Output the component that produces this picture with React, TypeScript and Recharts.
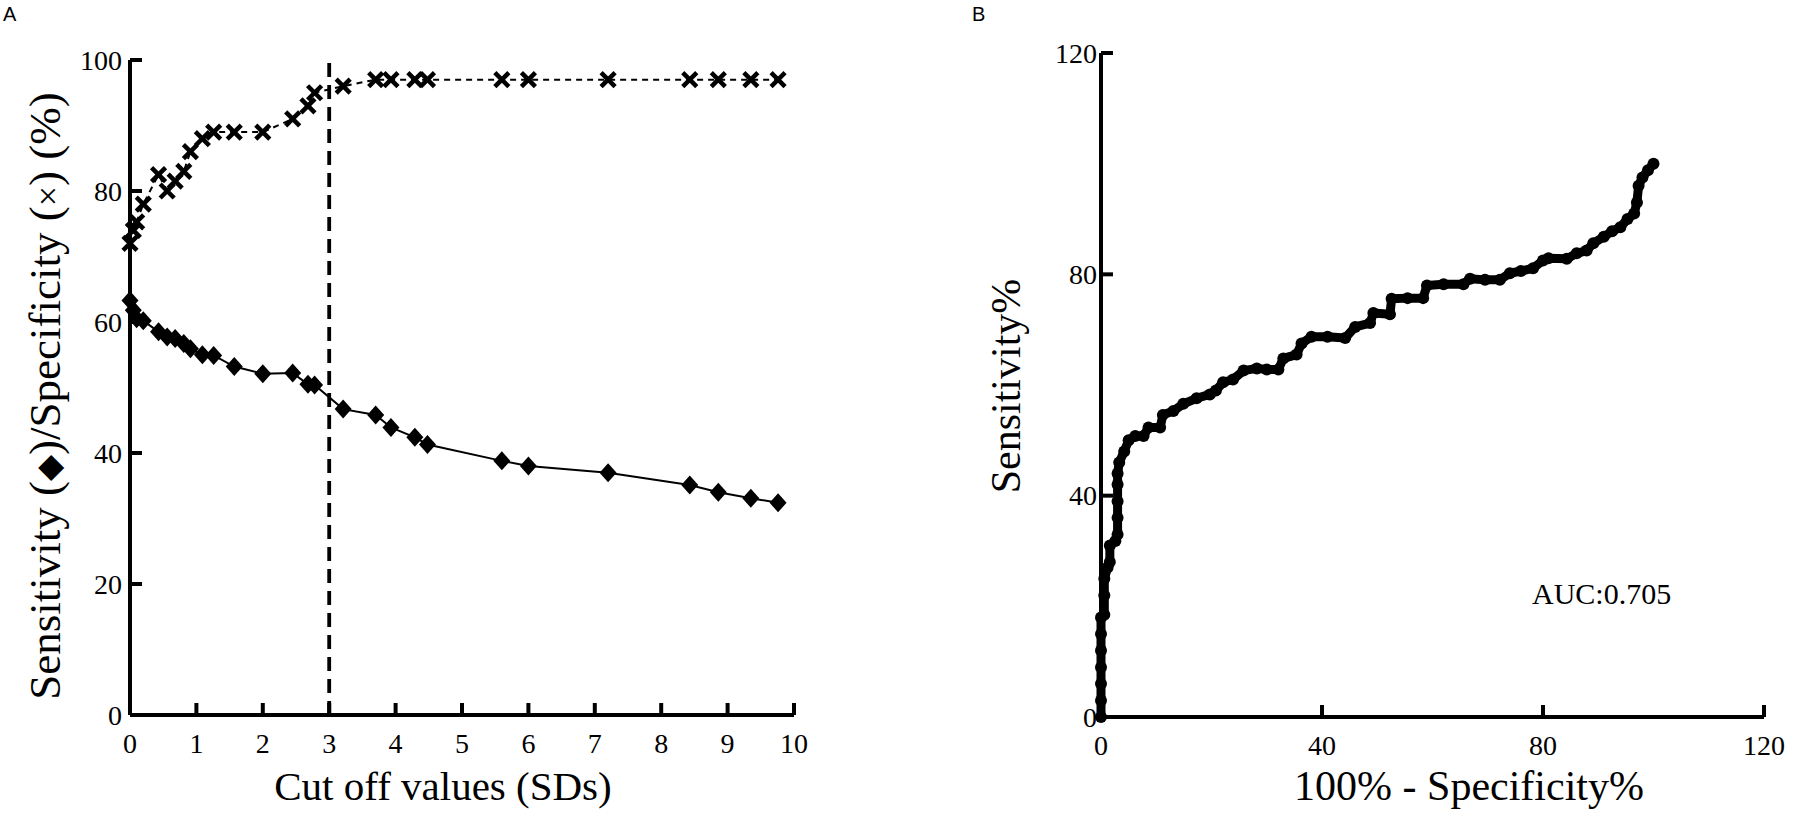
import React from 'react';
import { ComposedChart, Line, XAxis, YAxis, ReferenceLine } from 'recharts';

const SERIF = '"Liberation Serif", "Times New Roman", serif';
const SANS = '"Liberation Sans", Arial, sans-serif';

// Panel A: cut off values (SDs) with sensitivity / specificity (%)
const cutoffs = [0, 0.05, 0.1, 0.2, 0.43, 0.56, 0.68, 0.81, 0.91, 1.09, 1.26, 1.57, 2.0, 2.45, 2.68, 2.78, 3.21, 3.7, 3.93, 4.29, 4.48, 5.6, 6.0, 7.2, 8.43, 8.86, 9.35, 9.76];
const sensitivity = [63.3, 61.8, 60.5, 60.2, 58.5, 57.7, 57.5, 56.7, 55.9, 55.0, 54.9, 53.2, 52.1, 52.2, 50.5, 50.4, 46.7, 45.8, 43.9, 42.4, 41.3, 38.8, 38.0, 37.0, 35.1, 34.0, 33.1, 32.4];
const specificity = [72, 74, 75.3, 78, 82.5, 80, 81.5, 83, 86, 88, 89, 89, 89, 91, 93, 95, 96, 97, 97, 97, 97, 97, 97, 97, 97, 97, 97, 97];
const chosenCutoff = 3;
const ticksA_x = [0, 1, 2, 3, 4, 5, 6, 7, 8, 9, 10];
const ticksA_y = [0, 20, 40, 60, 80, 100];

// Panel B: ROC curve
const rocFpr = [0, 0, 0, 0, 0, 0, 0, 0.6, 0.6, 0.6, 1.2, 1.6, 1.6, 2.6, 3, 3, 3, 3, 3, 3.3, 4.2, 5, 6.2, 7.7, 8.6, 10.7, 11.2, 13.1, 14.9, 17.3, 19.7, 20.8, 22.1, 23.9, 25.8, 28.2, 30, 32.1, 33, 35.4, 36.3, 38.1, 41, 44.2, 46, 48.7, 49.3, 52.3, 52.6, 55.5, 58.3, 59, 62, 65.6, 66.8, 69.5, 72.2, 74, 76, 78.2, 80, 81, 84.3, 86.1, 87.9, 89.1, 91, 92.5, 94, 95.3, 96.5, 97, 97.3, 98, 99, 100];
const rocTpr = [0, 3, 6, 9, 12, 15, 18, 18.5, 22, 25, 27, 28, 31, 31.8, 33, 36, 39, 42, 44, 46, 48, 50, 50.8, 50.8, 52.3, 52.3, 54.6, 55.3, 56.6, 57.6, 58.3, 59, 60.5, 61, 62.6, 63, 62.8, 62.8, 64.8, 65.5, 67.5, 68.7, 68.7, 68.5, 70.5, 71.2, 73, 72.8, 75.6, 75.7, 75.7, 78, 78.2, 78.2, 79.2, 79, 79, 80.2, 80.6, 81.1, 82.5, 82.9, 82.8, 83.8, 84.3, 85.6, 86.8, 87.8, 88.5, 90, 91, 93, 96, 97.5, 98.8, 100];
const ticksB = [0, 40, 80, 120];
const aucText = 'AUC:0.705';

const dataA = cutoffs.map((c, i) => ({ cut: c, sens: sensitivity[i], spec: specificity[i] }));
const dataB = rocFpr.map((f, i) => ({ fpr: f, tpr: rocTpr[i] }));

const TICK_LEN = 12;
const X_MARGIN = 10;
const Y_MARGIN = 10;

function makeBottomTick(fontSize: number) {
  return (props: any) => {
    const { x, y, payload } = props;
    const axisY = y - X_MARGIN;
    return (
      <g>
        {payload.value !== 0 && (
          <line x1={x} x2={x} y1={axisY} y2={axisY - TICK_LEN} stroke="#000" strokeWidth={4} />
        )}
        <text x={x} y={axisY + 38} textAnchor="middle" fontSize={fontSize} fontFamily={SERIF} fill="#000">
          {payload.value}
        </text>
      </g>
    );
  };
}

function makeLeftTick(fontSize: number, gap: number) {
  return (props: any) => {
    const { x, y, payload } = props;
    const axisX = x + Y_MARGIN;
    return (
      <g>
        {payload.value !== 0 && (
          <line x1={axisX} x2={axisX + TICK_LEN} y1={y} y2={y} stroke="#000" strokeWidth={4} />
        )}
        <text x={axisX - gap} y={y} dy="0.35em" textAnchor="end" fontSize={fontSize} fontFamily={SERIF} fill="#000">
          {payload.value}
        </text>
      </g>
    );
  };
}

const XMark = (p: any) => {
  const { cx, cy } = p;
  if (cx == null || cy == null) return <g key={p.key} />;
  const s = 7;
  return (
    <g key={`x${p.index}`}>
      <line x1={cx - s} y1={cy - s} x2={cx + s} y2={cy + s} stroke="#000" strokeWidth={4.5} />
      <line x1={cx - s} y1={cy + s} x2={cx + s} y2={cy - s} stroke="#000" strokeWidth={4.5} />
    </g>
  );
};

const Diamond = (p: any) => {
  const { cx, cy } = p;
  if (cx == null || cy == null) return <g key={p.key} />;
  const w = 8.5;
  const h = 9.5;
  return (
    <polygon
      key={`d${p.index}`}
      points={`${cx},${cy - h} ${cx + w},${cy} ${cx},${cy + h} ${cx - w},${cy}`}
      fill="#000"
    />
  );
};

const RocDot = (p: any) => {
  const { cx, cy } = p;
  if (cx == null || cy == null) return <g key={p.key} />;
  return <circle key={`r${p.index}`} cx={cx} cy={cy} r={6} fill="#000" />;
};

const axisLine = { stroke: '#000', strokeWidth: 4 };

export default function App() {
  return (
    <div style={{ position: 'absolute', left: 0, top: 0, width: 1793, height: 824, background: '#fff' }}>
      <div style={{ position: 'absolute', left: 0, top: 0 }}>
        <ComposedChart width={830} height={824} data={dataA} margin={{ top: 60, right: 36, bottom: 49, left: 70 }}>
          <XAxis
            dataKey="cut"
            type="number"
            domain={[0, 10]}
            ticks={ticksA_x}
            interval={0}
            height={60}
            axisLine={axisLine}
            tickLine={false}
            tickSize={0}
            tickMargin={X_MARGIN}
            tick={makeBottomTick(28)}
          />
          <YAxis
            type="number"
            domain={[0, 100]}
            ticks={ticksA_y}
            interval={0}
            width={60}
            axisLine={axisLine}
            tickLine={false}
            tickSize={0}
            tickMargin={Y_MARGIN}
            tick={makeLeftTick(28, 8)}
          />
          <ReferenceLine x={chosenCutoff} stroke="#000" strokeWidth={3.8} strokeDasharray="14 8" />
          <Line
            dataKey="spec"
            stroke="#000"
            strokeWidth={2}
            strokeDasharray="6 5"
            dot={XMark}
            activeDot={false}
            isAnimationActive={false}
          />
          <Line
            dataKey="sens"
            stroke="#000"
            strokeWidth={2}
            dot={Diamond}
            activeDot={false}
            isAnimationActive={false}
          />
        </ComposedChart>
      </div>
      <div style={{ position: 'absolute', left: 980, top: 0 }}>
        <ComposedChart width={813} height={824} data={dataB} margin={{ top: 53, right: 29, bottom: 47, left: 61 }}>
          <XAxis
            dataKey="fpr"
            type="number"
            domain={[0, 120]}
            ticks={ticksB}
            interval={0}
            height={60}
            axisLine={axisLine}
            tickLine={false}
            tickSize={0}
            tickMargin={X_MARGIN}
            tick={makeBottomTick(28)}
          />
          <YAxis
            type="number"
            domain={[0, 120]}
            ticks={ticksB}
            interval={0}
            width={60}
            axisLine={axisLine}
            tickLine={false}
            tickSize={0}
            tickMargin={Y_MARGIN}
            tick={makeLeftTick(28, 4)}
          />
          <Line
            dataKey="tpr"
            stroke="#000"
            strokeWidth={9}
            strokeLinejoin="round"
            strokeLinecap="round"
            dot={RocDot}
            activeDot={false}
            isAnimationActive={false}
          />
        </ComposedChart>
      </div>
      <svg width={1793} height={824} style={{ position: 'absolute', left: 0, top: 0, pointerEvents: 'none' }}>
        <text x={3} y={21} fontSize={20} fontFamily={SANS} fill="#000">A</text>
        <text x={972} y={21} fontSize={20} fontFamily={SANS} fill="#000">B</text>
        <text x={443} y={800} textAnchor="middle" fontSize={41} fontFamily={SERIF} fill="#000">
          Cut off values (SDs)
        </text>
        <text transform="translate(60,396) rotate(-90)" textAnchor="middle" fontSize={45} fontFamily={SERIF} fill="#000">
          Sensitivity (<tspan fontSize={34}>◆</tspan>)/Specificity (<tspan fontSize={36}>×</tspan>) (%)
        </text>
        <text x={1469} y={800} textAnchor="middle" fontSize={42} fontFamily={SERIF} fill="#000">
          100% - Specificity%
        </text>
        <text transform="translate(1020,386) rotate(-90)" textAnchor="middle" fontSize={42} fontFamily={SERIF} fill="#000">
          Sensitivity%
        </text>
        <text x={1532} y={604} fontSize={30} fontFamily={SERIF} fill="#000">
          {aucText}
        </text>
      </svg>
    </div>
  );
}
